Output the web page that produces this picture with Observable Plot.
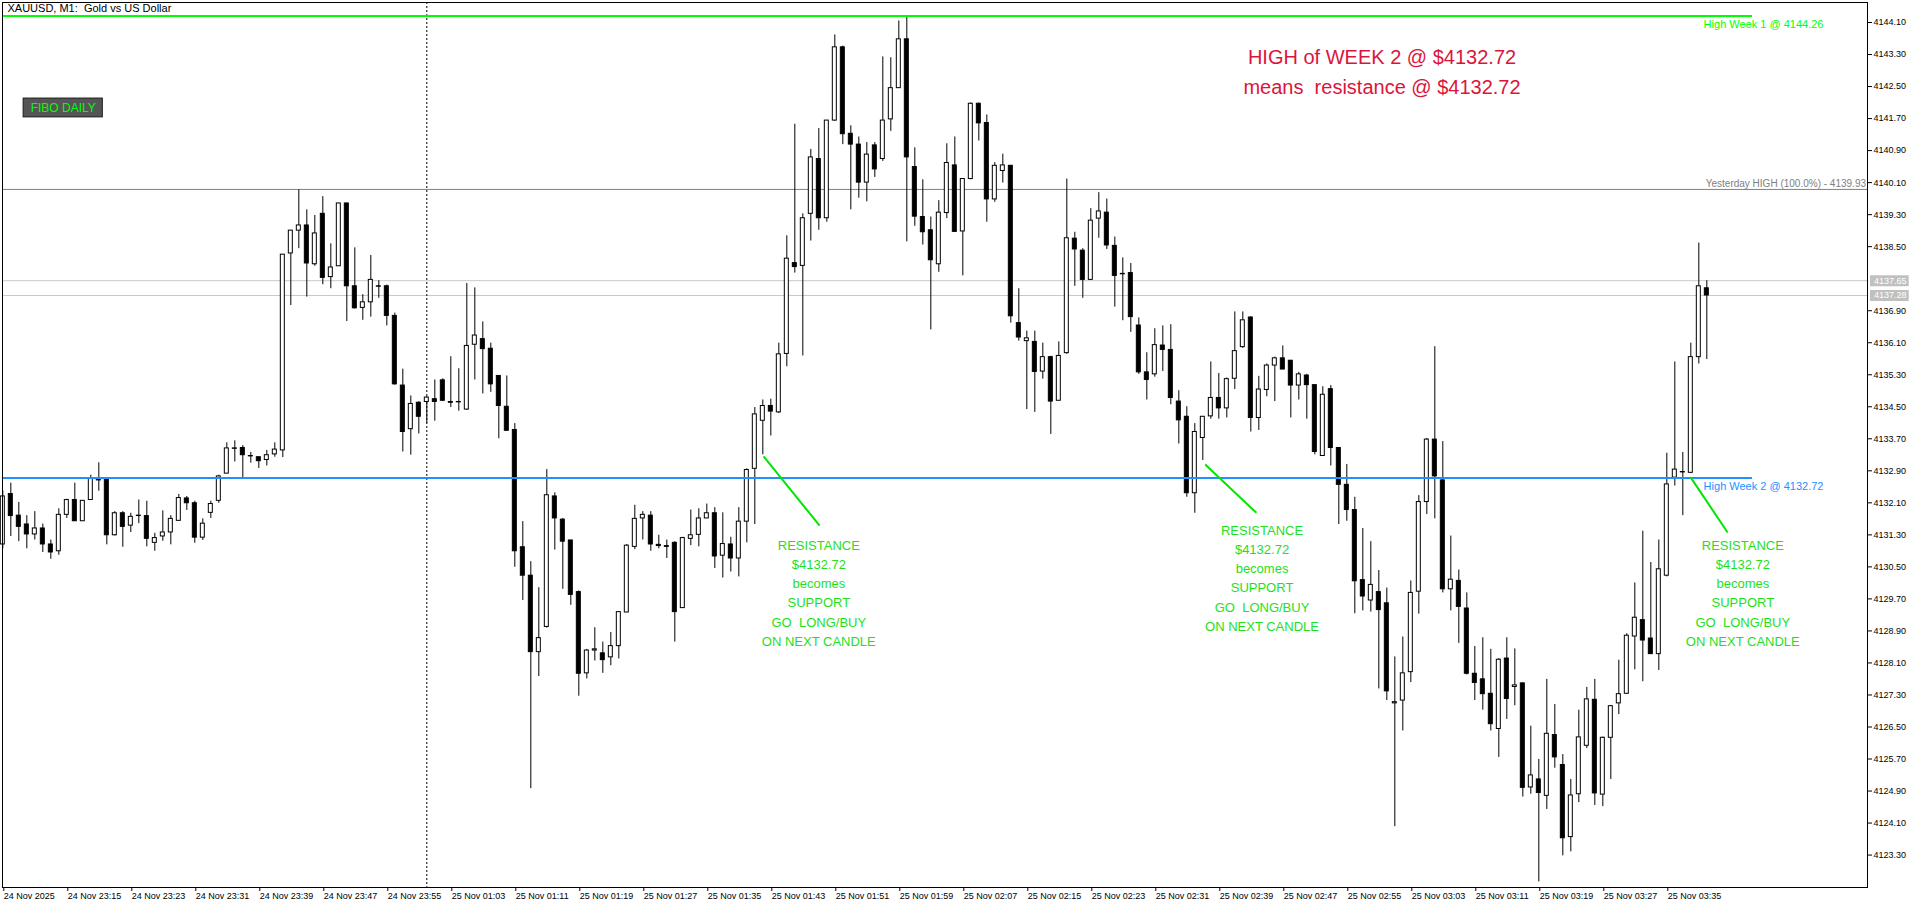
<!DOCTYPE html>
<html><head><meta charset="utf-8">
<script src="https://cdn.jsdelivr.net/npm/d3@7"></script>
<script src="https://cdn.jsdelivr.net/npm/@observablehq/plot@0.6"></script>
<style>html,body{margin:0;padding:0;background:#fff;overflow:hidden}</style>
</head><body><div id="chart"></div>
<script>
// ---- M1 candles, index 0 = 24 Nov 23:07 ... 52 = 23:59, 53 = 25 Nov 01:00 ... 213 = 03:40
const open = [4131.06,4132.32,4131.78,4131.56,4131.31,4131.46,4131.06,4130.89,4131.80,4132.17,
4131.64,4132.17,4132.67,4132.69,4131.29,4131.84,4131.53,4131.77,4131.77,4131.10,
4131.26,4131.36,4131.65,4132.21,4132.09,4131.23,4131.85,4132.15,4132.83,4133.46,
4133.47,4133.27,4133.24,4133.17,4133.31,4133.41,4138.33,4138.90,4139.03,4138.06,
4139.32,4137.74,4138.01,4139.58,4137.51,4136.97,4137.11,4137.51,4137.51,4136.77,
4135.03,4133.94,4134.60,4134.62,4134.69,4135.16,4134.62,4134.62,4134.43,4136.05,
4136.19,4135.95,4135.27,4134.50,4133.92,4130.99,4130.28,4128.37,4129.00,4132.26,
4131.68,4131.16,4129.87,4127.84,4128.41,4128.34,4128.24,4128.52,4129.36,4131.00,
4131.71,4131.78,4131.05,4131.02,4131.10,4129.47,4131.20,4131.30,4131.71,4131.84,
4130.78,4131.06,4130.71,4131.63,4132.95,4134.15,4134.52,4134.36,4135.82,4138.09,
4138.02,4139.32,4140.69,4139.21,4141.65,4143.48,4141.32,4141.05,4140.10,4141.03,
4140.69,4141.68,4142.46,4143.68,4140.49,4139.24,4138.91,4138.06,4139.34,4140.53,
4138.88,4140.19,4142.07,4141.59,4139.68,4140.39,4140.52,4136.59,4136.14,4136.12,
4135.38,4135.74,4134.65,4135.84,4138.70,4138.40,4137.67,4139.20,4139.35,4138.52,
4137.82,4137.84,4136.53,4135.36,4135.31,4136.03,4135.92,4134.63,4134.25,4132.34,
4133.72,4134.26,4134.72,4134.46,4135.20,4135.99,4136.73,4134.22,4134.92,4135.53,
4135.71,4135.65,4135.03,4135.28,4135.04,4133.27,4134.94,4133.47,4132.55,4131.92,
4130.17,4129.66,4129.87,4129.59,4127.09,4127.16,4127.87,4129.88,4132.12,4133.68,
4132.66,4129.94,4130.15,4129.46,4127.83,4127.69,4127.33,4126.45,4128.21,4127.50,
4127.59,4124.99,4125.19,4124.78,4126.30,4125.55,4123.75,4124.82,4126.03,4127.18,
4124.81,4126.23,4127.09,4127.33,4128.76,4129.17,4128.71,4128.32,4130.28,4132.73,
4132.86,4132.85,4135.74,4137.46];
const high = [4132.40,4132.59,4132.11,4131.78,4131.88,4131.57,4131.17,4131.95,4132.19,4132.59,
4132.15,4132.79,4133.10,4132.72,4131.88,4131.88,4131.84,4132.17,4132.14,4131.34,
4131.90,4131.78,4132.31,4132.26,4132.14,4131.70,4132.14,4132.79,4133.60,4133.65,
4133.53,4133.36,4133.24,4133.41,4133.60,4138.30,4138.90,4139.92,4139.42,4139.28,
4139.75,4138.57,4139.58,4139.58,4138.47,4137.30,4138.28,4137.65,4137.54,4136.84,
4135.44,4134.77,4134.63,4134.76,4135.17,4135.20,4135.75,4135.45,4137.58,4137.47,
4136.62,4136.09,4135.27,4135.27,4134.08,4131.63,4130.63,4129.98,4132.93,4132.35,
4131.71,4131.16,4129.90,4128.44,4128.98,4128.62,4128.86,4129.37,4131.06,4132.04,
4131.88,4131.88,4131.29,4131.17,4131.13,4131.24,4131.92,4131.95,4132.07,4131.98,
4131.85,4131.24,4131.98,4132.95,4134.48,4134.67,4134.69,4136.09,4138.77,4141.56,
4139.32,4140.93,4141.45,4141.65,4143.79,4143.51,4141.52,4141.24,4141.10,4141.10,
4143.24,4143.22,4144.14,4144.26,4140.97,4140.17,4139.24,4139.65,4141.07,4141.24,
4140.19,4142.09,4142.09,4141.79,4140.60,4140.81,4140.53,4137.45,4136.39,4136.39,
4136.09,4135.76,4136.12,4140.19,4138.86,4138.45,4139.45,4139.85,4139.69,4138.74,
4138.22,4138.08,4136.72,4135.85,4136.45,4136.52,4136.55,4134.90,4134.50,4134.08,
4134.25,4135.62,4135.33,4135.22,4136.87,4136.87,4136.75,4135.26,4135.57,4135.74,
4136.02,4135.66,4135.36,4135.31,4135.05,4135.00,4135.03,4133.48,4133.06,4132.24,
4131.46,4131.13,4130.41,4129.97,4128.25,4128.75,4130.15,4132.28,4133.71,4136.00,
4133.63,4131.27,4130.42,4129.85,4128.51,4128.73,4128.44,4128.21,4128.73,4128.45,
4127.60,4126.52,4125.69,4127.69,4127.06,4125.81,4125.19,4126.92,4127.49,4127.69,
4126.25,4127.04,4128.17,4128.83,4130.10,4131.39,4130.61,4131.17,4133.34,4135.62,
4133.36,4136.09,4138.59,4137.65];
const low = [4130.95,4131.26,4131.13,4130.95,4131.17,4130.86,4130.69,4130.79,4131.71,4131.64,
4131.64,4132.17,4132.39,4131.05,4131.27,4130.99,4131.36,4131.58,4131.00,4130.89,
4131.14,4131.05,4131.65,4131.91,4131.09,4131.16,4131.71,4132.09,4132.83,4133.12,
4132.73,4133.09,4132.96,4133.02,4133.24,4133.23,4137.03,4138.45,4137.24,4138.01,
4137.55,4137.45,4138.01,4136.63,4136.94,4136.66,4136.74,4137.21,4136.52,4135.04,
4133.37,4133.29,4133.82,4134.08,4134.14,4134.63,4134.48,4134.39,4134.41,4135.17,
4134.82,4134.86,4133.70,4133.90,4130.49,4129.66,4124.96,4127.76,4128.97,4130.92,
4129.94,4129.54,4127.27,4127.70,4128.15,4127.84,4128.03,4128.20,4129.36,4130.93,
4131.17,4130.89,4130.95,4130.71,4128.62,4129.47,4131.03,4131.00,4131.71,4130.46,
4130.22,4130.37,4130.25,4131.10,4131.56,4133.30,4133.77,4134.33,4135.50,4137.84,
4135.77,4138.64,4138.91,4139.11,4141.63,4141.05,4139.42,4139.71,4139.62,4140.23,
4140.63,4141.38,4142.46,4138.62,4139.01,4138.54,4136.42,4137.86,4139.20,4138.86,
4137.77,4140.17,4141.14,4139.11,4139.61,4140.09,4136.59,4136.14,4134.43,4134.36,
4135.19,4133.81,4134.65,4135.81,4137.51,4137.21,4137.66,4138.71,4138.43,4136.99,
4136.65,4136.36,4135.31,4134.67,4135.24,4135.38,4134.55,4133.57,4132.24,4131.84,
4133.16,4134.19,4134.19,4134.22,4134.93,4135.96,4133.87,4133.91,4134.75,4134.63,
4135.43,4134.22,4134.67,4134.19,4133.30,4133.26,4133.02,4131.56,4131.64,4129.33,
4129.40,4129.37,4127.45,4127.16,4124.01,4126.40,4127.61,4129.32,4131.81,4131.70,
4129.85,4129.40,4128.59,4127.80,4127.16,4126.92,4126.40,4125.74,4126.69,4127.03,
4124.75,4124.82,4122.63,4124.44,4125.47,4123.28,4123.38,4124.61,4125.96,4124.54,
4124.51,4125.19,4126.81,4127.31,4127.93,4127.63,4128.32,4127.91,4130.25,4132.52,
4131.78,4132.83,4135.57,4135.68];
const close = [4132.26,4131.77,4131.50,4131.31,4131.46,4131.06,4130.86,4131.80,4132.17,4131.64,
4132.15,4132.72,4132.66,4131.29,4131.84,4131.50,4131.75,4131.78,4131.20,4131.22,
4131.36,4131.70,4132.22,4132.09,4131.23,4131.58,4132.07,4132.76,4133.46,4133.45,
4133.29,4133.26,4133.14,4133.29,4133.43,4138.30,4138.90,4139.03,4138.08,4138.83,
4137.72,4137.98,4139.58,4137.51,4136.96,4137.11,4137.67,4137.50,4136.77,4135.06,
4133.87,4134.57,4134.25,4134.73,4134.62,4134.65,4134.60,4134.61,4136.02,4136.28,
4135.94,4135.06,4134.52,4133.90,4130.89,4130.28,4128.37,4128.72,4132.29,4131.71,
4131.13,4129.80,4127.83,4128.41,4128.44,4128.17,4128.52,4129.37,4131.03,4131.70,
4131.80,4131.06,4131.02,4131.00,4129.37,4131.22,4131.29,4131.71,4131.84,4130.76,
4131.07,4130.71,4131.63,4132.92,4134.31,4134.52,4134.38,4135.81,4138.20,4137.99,
4139.21,4140.73,4139.21,4141.65,4143.48,4141.31,4141.05,4140.10,4140.80,4140.43,
4141.65,4142.46,4143.68,4140.73,4139.25,4138.86,4138.16,4139.35,4140.59,4138.87,
4140.19,4142.07,4141.58,4139.68,4140.52,4140.53,4136.76,4136.23,4136.21,4135.37,
4135.74,4134.63,4135.77,4138.71,4138.43,4137.67,4139.15,4139.38,4138.53,4137.77,
4137.81,4136.74,4135.36,4135.17,4136.04,4135.92,4134.72,4134.16,4132.34,4133.87,
4134.25,4134.72,4134.46,4135.19,4135.89,4136.66,4134.22,4134.93,4135.53,4135.71,
4135.43,4135.03,4135.31,4135.04,4133.37,4134.80,4133.47,4132.55,4131.92,4130.14,
4129.76,4130.05,4129.42,4127.39,4127.12,4127.84,4129.85,4132.12,4133.68,4132.76,
4129.94,4130.18,4129.50,4127.83,4127.60,4127.32,4126.57,4128.18,4127.20,4127.54,
4124.98,4125.29,4124.85,4126.33,4125.74,4123.72,4124.79,4126.24,4127.19,4124.84,
4126.23,4127.02,4127.32,4128.78,4129.23,4128.66,4128.32,4130.44,4132.56,4132.93,
4132.87,4135.74,4137.51,4137.28];

// ---- time axis labels (bar index -> label)
const xTickIndex = [0,8,16,24,32,40,48,56,64,72,80,88,96,104,112,120,128,136,144,152,160,168,176,184,192,200,208];
const xTickLabels = ["24 Nov 2025","24 Nov 23:15","24 Nov 23:23","24 Nov 23:31","24 Nov 23:39","24 Nov 23:47","24 Nov 23:55",
"25 Nov 01:03","25 Nov 01:11","25 Nov 01:19","25 Nov 01:27","25 Nov 01:35","25 Nov 01:43","25 Nov 01:51","25 Nov 01:59",
"25 Nov 02:07","25 Nov 02:15","25 Nov 02:23","25 Nov 02:31","25 Nov 02:39","25 Nov 02:47","25 Nov 02:55","25 Nov 03:03",
"25 Nov 03:11","25 Nov 03:19","25 Nov 03:27","25 Nov 03:35"];
// ---- price axis labels
const yTicks = [4144.10,4143.30,4142.50,4141.70,4140.90,4140.10,4139.30,4138.50,4136.90,4136.10,4135.30,4134.50,
4133.70,4132.90,4132.10,4131.30,4130.50,4129.70,4128.90,4128.10,4127.30,4126.50,4125.70,4124.90,4124.10,4123.30];

// ---- levels
const week1High = 4144.26;
const week2High = 4132.72;
const yesterdayHigh = 4139.93;
const askPrice = 4137.65;
const bidPrice = 4137.28;
const daySeparatorIndex = 53;
const levelLineEnd = 218.7;
const xDomain = [-0.04, 233.085];
const yDomain = [4122.49, 4144.60];

// ---- annotations
const noteText = "RESISTANCE\n$4132.72\nbecomes\nSUPPORT\nGO\u00a0\u00a0LONG/BUY\nON NEXT CANDLE";
const notes = [
  {x: 102.0, y: 4129.88},
  {x: 157.4, y: 4130.26},
  {x: 217.5, y: 4129.88}
];
const pointers = [
  {x1: 95.1, y1: 4133.26, x2: 102.1, y2: 4131.53},
  {x1: 150.3, y1: 4133.06, x2: 156.7, y2: 4131.85},
  {x1: 211.0, y1: 4132.73, x2: 215.6, y2: 4131.36}
];
const headline = "HIGH of WEEK 2 @ $4132.72\nmeans\u00a0\u00a0resistance @ $4132.72";
const headlinePos = {x: 172.4, y: 4142.92};
const title = "XAUUSD, M1:\u00a0 Gold vs US Dollar";
const button = {x1: 2.6, x2: 12.5, y1: 4141.73, y2: 4142.20, label: "FIBO DAILY"};

const candles = open.map((o, i) => ({i, o, h: high[i], l: low[i], c: close[i]}));
const labelOf = new Map(xTickIndex.map((k, j) => [k, xTickLabels[j]]));

const chart = Plot.plot({
  width: 1920, height: 909,
  marginLeft: 2, marginRight: 53, marginTop: 2, marginBottom: 22,
  style: {fontFamily: "'Liberation Sans', Arial, sans-serif", fontSize: "9px", background: "#fff", overflow: "visible", color: "black"},
  x: {domain: xDomain, axis: null},
  y: {domain: yDomain, axis: null},
  marks: [
    Plot.ruleY([yesterdayHigh], {stroke: "#808080", strokeWidth: 1}),
    Plot.ruleY([askPrice, bidPrice], {stroke: "#c8c8c8", strokeWidth: 1}),
    Plot.ruleX([daySeparatorIndex], {stroke: "black", strokeDasharray: "2,2"}),
    Plot.ruleX(candles, {x: "i", y1: "l", y2: "h", stroke: "black", strokeWidth: 1}),
    Plot.rect(candles, {x1: d => d.i - 0.25, x2: d => d.i + 0.25, y1: "o", y2: "c",
      fill: d => d.c >= d.o ? "white" : "black", stroke: "black", strokeWidth: 1}),
    Plot.ruleY([{y: week1High, x1: xDomain[0], x2: levelLineEnd}], {y: "y", x1: "x1", x2: "x2", stroke: "#00ff00", strokeWidth: 2}),
    Plot.ruleY([{y: week2High, x1: xDomain[0], x2: levelLineEnd}], {y: "y", x1: "x1", x2: "x2", stroke: "#1e90ff", strokeWidth: 2}),
    Plot.text([`High Week 1 @ ${week1High.toFixed(2)}`], {x: 212.6, y: 4144.05, textAnchor: "start", fill: "#00ff00", fontSize: 11}),
    Plot.text([`High Week 2 @ ${week2High.toFixed(2)}`], {x: 212.6, y: 4132.51, textAnchor: "start", fill: "#1e90ff", fontSize: 11}),
    Plot.text([`Yesterday HIGH (100.0%) - ${yesterdayHigh.toFixed(2)}`], {x: 232.9, y: 4140.08, textAnchor: "end", fill: "#808080", fontSize: 10}),
    Plot.link(pointers, {x1: "x1", y1: "y1", x2: "x2", y2: "y2", stroke: "#00e600", strokeWidth: 2}),
    Plot.text(notes, {x: "x", y: "y", text: () => noteText, fill: "#1ee01e", fontSize: 13, lineHeight: 1.48, lineAnchor: "middle", textAnchor: "middle"}),
    Plot.text([headline], {x: headlinePos.x, y: headlinePos.y, fill: "#dc143c", fontSize: 20, lineHeight: 1.5, lineAnchor: "middle", textAnchor: "middle"}),
    Plot.rect([button], {x1: "x1", x2: "x2", y1: "y1", y2: "y2", fill: "#555555", stroke: "#1a1a1a", strokeWidth: 1}),
    Plot.text([button], {x: d => (d.x1 + d.x2) / 2, y: d => (d.y1 + d.y2) / 2, text: "label", fill: "#00ff00", fontSize: 12}),
    Plot.text([title], {frameAnchor: "top-left", dx: 5, dy: 2, lineAnchor: "top", textAnchor: "start", fontSize: 11, fill: "black"}),
    Plot.frame({stroke: "black", strokeWidth: 1}),
    Plot.axisX({ticks: xTickIndex, tickFormat: d => labelOf.get(d), tickSize: 4, tickPadding: 1, textAnchor: "start", dx: 1, fontSize: 9, anchor: "bottom"}),
    Plot.axisY({ticks: yTicks, tickFormat: d3.format(".2f"), tickSize: 4, tickPadding: 2, fontSize: 9, anchor: "right"}),
    Plot.ruleY([askPrice, bidPrice], {x1: 233.46, x2: 238.3, stroke: "#c0c0c0", strokeWidth: 11}),
    Plot.text([askPrice, bidPrice], {x: 233.9, y: d => d, text: d => d.toFixed(2), textAnchor: "start", fill: "white", fontSize: 9})
  ]
});
document.getElementById("chart").appendChild(chart);
</script>
</body></html>
